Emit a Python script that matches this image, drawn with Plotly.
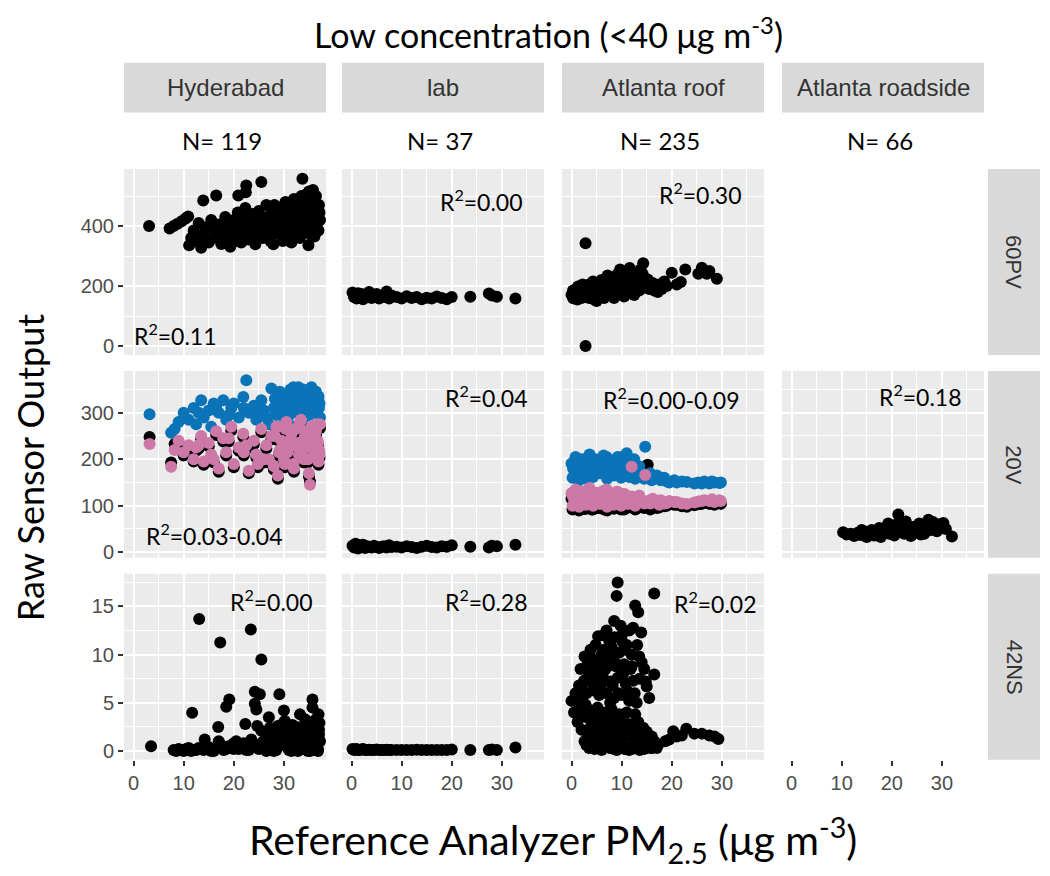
import plotly.graph_objects as go
from plotly.subplots import make_subplots

# page coordinates of the reference (the html body adds an 8 px margin)
OX, OY = 8, 8
W, H = 1050 - OX, 876 - OY

sites = ["Hyderabad", "lab", "Atlanta roof", "Atlanta roadside"]
sensors = ["60PV", "20V", "42NS"]
n_labels = ["N= 119", "N= 37", "N= 235", "N= 66"]

# ---------------- data ----------------
hyd_60pv = [(3.1,400),(7.2,392),(8.0,400),(8.8,408),(9.6,416),(10.4,425),(10.9,432),
    (13.9,485),(16.5,502),(20.9,502),(22.4,513),(22.5,535),(25.5,547),(33.7,558),
    (11.1,336),(11.5,360),(12.0,385),(12.5,350),(13.0,410),(13.5,328),(14.0,372),(14.3,395),
    (15.0,345),(15.5,420),(16.0,360),(16.2,388),(17.0,405),(17.5,340),(17.8,375),(18.3,430),
    (18.8,355),(19.3,331),(19.5,395),(20.0,420),(20.3,365),(20.8,445),(21.2,380),(21.5,345),
    (22.0,410),(22.3,460),(22.8,390),(23.0,355),(23.5,430),(24.0,372),(24.3,339),(24.6,405),
    (25.0,450),(25.3,385),(25.8,360),(26.2,420),(26.5,470),(27.0,395),(27.3,350),(27.9,339),
    (28.0,440),(28.3,410),(28.8,375),(29.0,460),(29.4,395),(29.8,350),(30.0,425),(30.3,480),
    (30.6,400),(30.9,370),(31.2,445),(31.5,345),(31.8,415),(32.0,490),(32.3,385),(32.6,455),
    (32.9,430),(33.2,360),(33.5,500),(33.8,405),(34.0,470),(34.3,380),(34.6,440),(34.9,336),
    (35.0,515),(35.2,420),(35.5,395),(35.7,480),(35.9,455),(36.1,365),(36.3,430),(36.5,410),
    (36.7,445),(36.9,385),(37.0,470),(37.2,420),(36.4,500),(35.8,520),(34.4,505),(33.0,480),
    (31.0,465),(29.5,440),(27.5,455),(26.0,395),(24.5,420),(23.2,375),(21.8,395),(19.0,380),
    (17.2,390),(20.5,400),(21.0,430),(21.7,360),(22.5,385),(23.3,415),(23.8,440),(24.8,365),
    (25.5,400),(26.8,430),(27.2,375),(28.5,390),(29.2,420),(30.2,360),(30.8,440),(31.4,395),
    (32.2,420),(32.8,370),(33.4,450),(34.1,395),(34.8,425),(35.4,370),(36.0,440),(36.6,395),
    (37.1,445),(36.2,470),(35.1,490),(34.7,455),(33.9,485),(32.4,470),(31.6,430),(30.4,410),
    (29.0,380),(28.1,470),(26.8,360),(25.6,430),(24.1,395),(22.6,425),(19.8,345),(18.0,410),
    (16.8,370),(15.2,395),(14.6,350),(12.8,370)]

hyd_20v_x = [3.2,7.5,8.2,9.0,10.0,11.0,12.0,12.5,13.5,14.0,15.0,15.5,16.5,17.0,17.9,18.5,19.5,20.0,
    21.0,21.9,22.5,23.0,24.0,24.5,25.5,26.0,26.5,27.5,28.0,28.5,29.0,29.5,30.0,30.5,31.0,31.5,
    31.9,32.3,32.7,33.0,33.4,33.8,34.2,34.5,34.8,35.2,35.5,35.8,36.1,36.4,36.7,37.0,37.2,36.9,
    35.0,33.6,32.0,30.2,28.8,27.0,
    28.2,29.2,30.4,31.3,32.1,32.9,33.7,34.4,35.1,35.6,36.2,36.8,37.1,36.5,35.3,34.0,33.2,31.7,
    30.7,29.7,13.0,16.0,19.0,22.0,24.8]
hyd_20v_blue = [297,257,265,280,300,285,310,275,327,290,305,270,315,300,327,285,310,320,290,334,
    370,300,315,285,327,305,290,352,310,295,320,300,330,310,295,340,355,320,345,305,335,350,320,
    300,340,315,355,330,305,345,325,310,290,335,295,285,270,280,300,275,
    330,345,320,350,335,355,340,325,350,338,345,330,320,300,310,290,315,300,285,305,300,320,295,
    310,300]
hyd_20v_pink = [233,184,220,240,215,230,200,225,250,195,235,210,260,180,245,215,270,190,225,255,
    230,175,240,210,265,200,230,250,185,270,215,240,200,280,225,255,190,265,235,210,285,220,250,
    241,200,145,270,230,210,260,240,220,275,195,170,205,180,190,165,200,
    250,220,265,240,230,270,215,260,245,225,255,235,210,275,260,200,280,230,215,270,230,200,245,
    215,190]
hyd_20v_black = [248,193,233,231,208,222,195,218,243,188,228,204,252,173,238,208,262,183,218,248,
    222,170,232,203,258,193,223,243,178,262,208,233,193,272,218,247,183,258,228,203,277,213,243,
    241,193,152,262,223,203,252,233,213,267,188,163,198,173,183,158,193,
    243,213,258,233,223,263,208,253,238,218,248,228,203,268,253,193,273,223,208,263,223,193,238,
    208,183]

hyd_42ns = [(3.5,0.5),(8.0,0.1),(9.0,0.2),(10.0,0.0),(11.0,0.3),(11.7,3.96),(12.0,0.1),(13.1,13.7),
    (13.5,0.2),(14.2,1.2),(15.0,0.4),(16.0,0.0),(16.9,2.5),(17.3,11.25),(17.5,0.6),(18.5,4.6),
    (19.1,5.35),(19.5,0.3),(20.5,1.0),(21.0,0.2),(22.0,0.8),(22.3,2.8),(23.0,0.1),(23.4,12.6),
    (24.2,6.15),(24.2,4.9),(24.5,4.3),(25.2,5.9),(25.5,9.5),(25.5,2.1),(26.0,0.5),(26.5,1.3),
    (27.0,0.2),(27.5,1.8),(28.0,0.9),(28.5,0.3),(29.1,5.9),(29.9,2.9),(29.5,1.5),(30.0,0.6),
    (30.5,2.2),(31.0,0.1),(31.5,1.4),(32.0,0.8),(32.5,2.5),(33.0,0.3),(33.2,3.8),(33.5,1.6),
    (34.0,0.7),(34.2,3.3),(34.5,2.0),(35.0,0.4),(35.5,1.1),(35.7,5.35),(35.7,4.5),(36.0,2.4),
    (36.5,0.9),(37.0,1.7),(37.1,2.9),(36.8,0.2),(31.5,0.0),(28.5,0.1),(26.5,0.0),(33.8,0.2),
    (30.8,1.0),(27.8,0.5),(35.2,0.0),(36.3,0.4),(20.0,0.2),(18.0,0.1),(15.5,0.0),(12.5,0.1),
    (8.5,0.0),(9.5,0.1),(10.5,0.2),(11.5,0.0),(13.0,0.3),(14.0,0.1),(15.0,0.2),(16.5,0.3),
    (17.0,1.0),(18.5,0.2),(19.0,0.5),(20.0,0.8),(21.5,0.3),(22.5,0.1),(23.5,1.2),(24.0,0.4),
    (25.0,0.2),(26.2,1.9),(26.8,0.8),(27.2,2.4),(27.7,0.3),(28.2,1.5),(28.8,2.6),(29.3,0.7),
    (29.7,1.9),(30.2,3.1),(30.7,0.5),(31.2,1.9),(31.7,2.7),(32.2,0.4),(32.7,1.2),(33.3,2.2),
    (33.7,0.9),(34.3,1.6),(34.7,2.8),(35.3,0.6),(35.8,1.5),(36.2,3.2),(36.6,0.6),(37.0,2.2),
    (37.2,1.0),(36.9,3.8),(30.0,4.2),(27.0,3.5),(28.0,0.0),(32.8,0.0),(34.8,0.0),(36.8,0.0),
    (25.7,0.9),(24.7,2.6)]

lab_x = [0.2,0.5,0.8,1.0,1.3,1.6,2.0,2.3,2.7,3.0,3.5,4.0,4.5,5.0,5.5,6.0,6.5,7.0,7.5,8.0,9.0,10.0,
    11.0,12.0,13.0,14.0,15.0,16.0,17.0,18.0,19.0,20.0,23.7,27.4,28.0,29.0,32.7]
lab_60pv = [178,163,170,158,176,166,173,156,168,163,180,160,168,173,158,166,163,182,158,168,163,158,
    166,160,163,156,161,158,165,160,156,163,164,175,168,164,158]
lab_20v = [14,10,18,12,8,15,11,16,9,13,12,10,14,11,9,12,13,10,15,11,12,10,13,11,9,12,14,11,10,13,
    12,15,12,10,14,13,16]
lab_42ns = [0.2,0.1,0.15,0.2,0.1,0.1,0.15,0.2,0.1,0.1,0.12,0.1,0.1,0.15,0.1,0.1,0.1,0.12,0.1,0.1,
    0.1,0.1,0.1,0.1,0.12,0.1,0.1,0.1,0.1,0.1,0.1,0.15,0.1,0.1,0.15,0.1,0.35]

roof_60pv = [(2.8,343),(2.8,0),(0.0,171),(0.3,160),(0.5,180),(0.8,165),(1.0,175),(1.2,155),(1.5,185),
    (1.8,170),(2.0,160),(2.3,190),(2.5,175),(2.8,165),(3.0,195),(3.3,180),(3.5,160),(3.8,200),
    (4.0,170),(4.2,185),(4.5,155),(4.8,205),(5.0,175),(5.3,190),(5.5,165),(5.8,210),(6.0,180),
    (6.3,195),(6.5,160),(6.8,215),(7.0,185),(7.3,200),(7.5,170),(7.8,225),(8.0,190),(8.3,205),
    (8.5,160),(8.8,230),(9.0,195),(9.3,210),(9.5,175),(9.8,235),(10.0,200),(10.3,220),(10.5,165),
    (10.8,240),(11.0,190),(11.3,215),(11.5,180),(11.8,245),(12.0,205),(12.3,225),(12.5,170),
    (12.8,235),(13.0,195),(13.3,215),(13.5,185),(14.0,210),(14.3,276),(14.5,195),(15.0,205),
    (15.5,190),(16.0,200),(16.5,185),(17.0,195),(17.5,205),(18.0,190),(19.0,200),(20.0,244),
    (21.0,205),(21.8,213),(22.7,255),(25.3,241),(26.0,261),(27.0,241),(27.5,250),(29.0,224),
    (1.0,190),(2.0,185),(0.5,158),(3.5,205),(6.0,220),(5.0,150),
    (0.3,185),(1.3,198),(2.2,205),(3.2,170),(4.3,215),(5.2,200),(6.2,172),(7.2,235),(8.2,178),
    (9.2,240),(10.2,185),(11.2,250),(12.2,188),(13.2,230),(14.2,240),(15.2,222),(16.2,210),
    (17.2,180),(18.5,215),(13.8,255),(11.6,260),(9.7,255)]

roof_20v_x = [0.0,0.3,0.6,1.0,1.3,1.6,2.0,2.3,2.6,3.0,3.3,3.6,4.0,4.4,4.8,5.2,5.6,6.0,6.5,7.0,7.5,
    8.0,8.5,9.0,9.5,10.0,10.5,11.0,11.5,12.0,12.5,13.0,13.5,14.0,14.7,15.2,15.7,16.2,17.0,17.8,
    18.5,19.5,20.5,22.0,24.5,25.3,26.5,27.5,28.5,29.5,
    0.2,0.8,1.5,2.2,2.9,3.6,4.3,5.0,5.7,6.4,7.1,7.8,8.5,9.2,9.9,10.6,11.3,12.0,12.7,13.4,
    1.0,2.5,4.0,5.5,7.0,8.5,10.0,11.5,13.0,14.5,16.0,17.5,19.0,21.0,23.0,26.0,28.0,29.8]
roof_20v_blue = [191,180,195,170,185,200,175,190,165,195,180,205,170,190,200,175,185,195,170,205,
    180,190,175,200,185,205,170,213,190,180,200,175,185,170,227,165,170,160,165,155,160,150,155,
    152,148,150,152,148,150,149,
    160,205,155,200,158,210,162,198,170,208,158,195,165,205,160,200,168,190,158,178,
    185,172,190,178,195,170,188,162,165,158,155,160,152,150,151,148,152,150]
roof_20v_pink = [127,120,110,130,115,105,125,118,108,132,112,122,105,128,115,110,125,118,105,135,
    112,120,108,130,115,125,105,120,110,184,115,108,122,112,166,110,105,115,108,112,105,110,108,
    105,107,109,112,110,108,112,
    100,135,98,130,102,138,100,128,104,132,98,126,102,130,100,125,104,120,100,118,
    115,110,120,108,118,112,115,110,108,105,110,102,106,108,104,110,114,110]
roof_20v_black = [115,110,95,118,105,92,112,108,93,120,100,110,92,115,103,95,112,106,92,122,98,108,
    94,118,102,112,92,108,97,100,102,94,110,98,100,188,92,102,95,106,99,104,102,99,101,103,106,104,
    102,106,
    92,120,90,118,94,125,92,115,95,120,90,112,94,118,92,112,96,108,92,106,
    105,100,110,98,108,102,105,100,98,95,104,96,100,102,98,104,108,104]

roof_42ns = [(9.2,17.5),(9.0,16.1),(16.5,16.35),(12.7,15.1),(13.3,14.4),(8.5,13.5),(12.3,12.8),
    (13.9,12.3),(5.3,11.9),(7.0,12.5),(10.0,12.0),(11.0,11.0),(6.5,10.5),(8.0,10.8),(9.5,10.2),
    (12.0,10.0),(13.5,9.8),(4.5,9.5),(5.8,9.0),(7.2,9.3),(8.8,8.8),(10.5,9.0),(11.8,8.5),(14.5,8.5),
    (16.5,7.95),(3.5,8.0),(4.8,7.5),(6.2,7.8),(7.8,7.2),(9.2,7.6),(10.8,7.0),(12.3,7.3),(15.0,6.7),
    (2.0,6.5),(3.0,6.0),(4.2,6.3),(5.5,5.8),(7.0,6.0),(8.5,5.5),(10.0,5.8),(11.5,5.2),(13.0,5.0),
    (0.0,5.2),(1.0,5.5),(1.5,4.5),(2.8,4.8),(4.0,4.2),(5.2,4.5),(6.8,4.0),(8.0,4.3),(9.5,3.8),
    (11.0,4.0),(12.7,3.8),(3.0,3.5),(4.5,3.0),(6.0,3.3),(7.5,2.8),(9.0,3.0),(10.5,2.5),(12.0,2.7),
    (13.5,2.3),(15.0,2.0),(16.0,1.5),(5.0,2.0),(6.5,1.5),(8.0,1.8),(9.5,1.2),(11.0,1.6),(12.5,1.0),
    (14.0,1.3),(15.5,0.8),(4.0,0.8),(5.5,0.3),(7.0,0.6),(8.5,0.2),(10.0,0.5),(11.5,0.1),(13.0,0.4),
    (14.5,0.2),(16.0,0.3),(17.3,0.66),(18.7,1.0),(2.6,1.0),(3.5,0.3),(20.3,2.05),(21.0,1.5),
    (22.9,2.3),(22.0,1.6),(24.5,1.8),(26.0,1.8),(27.5,1.6),(29.3,1.25),(28.5,1.5),(19.5,1.2),
    (6.0,7.0),(8.2,9.8),(10.2,11.3),(7.5,11.5),
    (1.5,6.8),(2.2,5.6),(2.5,7.3),(3.2,9.0),(3.8,10.5),(4.2,7.0),(4.8,11.0),(5.0,8.5),(5.6,6.5),
    (6.0,10.0),(6.3,12.0),(6.8,8.5),(7.4,10.0),(7.7,5.0),(8.2,6.8),(8.6,11.8),(9.0,9.0),(9.4,6.0),
    (9.8,13.0),(10.3,8.0),(10.7,10.5),(11.2,6.2),(11.5,12.5),(12.0,8.8),(12.6,6.0),(13.1,11.0),
    (13.6,7.5),(14.0,9.2),(14.8,7.2),(15.5,5.5),(1.2,3.0),(2.0,2.2),(2.5,3.8),(3.3,1.8),(3.8,2.5),
    (4.5,1.5),(5.0,3.8),(5.6,2.5),(6.2,1.0),(6.8,2.2),(7.3,3.6),(7.8,1.2),(8.3,2.6),(8.8,0.8),
    (9.3,2.0),(9.8,3.2),(10.3,1.4),(10.8,0.4),(11.3,2.8),(11.8,1.8),(12.3,0.6),(12.8,2.0),(13.3,3.0),
    (13.8,0.9),(14.3,2.4),(14.8,1.0),(15.3,1.6),(15.8,0.3),(16.5,1.0),(17.0,0.3),(4.6,0.2),(6.0,0.1),
    (7.6,0.3),(9.0,0.1),(10.6,0.2),(12.0,0.2),(13.6,0.1),(3.0,0.6),(0.5,4.0),(0.8,6.0),(1.8,8.5),
    (2.6,9.8)]

road_20v = [(10.3,43),(11.0,38),(11.8,40),(12.5,35),(13.2,42),(13.8,37),(14.5,45),(15.0,33),(15.5,40),
    (16.0,48),(16.5,36),(17.0,43),(17.5,52),(18.0,38),(18.5,46),(19.0,55),(19.5,40),(20.0,50),
    (20.5,36),(21.0,60),(21.3,81),(21.5,45),(22.0,53),(22.5,40),(23.0,58),(23.5,47),(24.0,37),
    (24.5,55),(25.0,44),(25.5,62),(26.0,50),(26.5,40),(27.0,58),(27.3,70),(27.8,48),(28.2,65),
    (28.6,55),(29.0,45),(29.5,60),(30.0,52),(30.3,63),(30.8,50),(32.0,34),(14.0,48),(17.8,33),
    (20.8,42),(23.8,35),(19.3,62),(22.8,66),(25.8,38)]

r2_labels = {  # (row, col): (text, x, y, anchor)
    (1, 1): ("R<sup>2</sup>=0.11", -0.3, 38, "left"),
    (1, 2): ("R<sup>2</sup>=0.00", 17.3, 484, "left"),
    (1, 3): ("R<sup>2</sup>=0.30", 17.0, 507, "left"),
    (2, 1): ("R<sup>2</sup>=0.03-0.04", 16.2, 38, "center"),
    (2, 2): ("R<sup>2</sup>=0.04", 18.3, 334, "left"),
    (2, 3): ("R<sup>2</sup>=0.00-0.09", 5.8, 330, "left"),
    (2, 4): ("R<sup>2</sup>=0.18", 17.0, 338, "left"),
    (3, 1): ("R<sup>2</sup>=0.00", 18.8, 15.6, "left"),
    (3, 2): ("R<sup>2</sup>=0.28", 18.3, 15.6, "left"),
    (3, 3): ("R<sup>2</sup>=0.02", 20.0, 15.4, "left"),
}

# ---------------- styling / layout constants ----------------
BLACK, BLUE, PINK = "#000000", "#0B73B7", "#CC79A7"
PANEL_BG, STRIP_BG = "#EBEBEB", "#D9D9D9"
GG_FONT = "Liberation Sans"
CAL_FONT = "Lato"

col_px = [(124, 326), (342, 544), (562, 764), (782, 984)]
row_px = [(170, 357), (373, 561), (577, 764)]
x_range = [-1.9, 38.4]
y_ranges = [[-30, 590], [-12, 390], [-0.9, 18.4]]
y_dticks = [200, 100, 5]
present = {(1, 1), (1, 2), (1, 3), (2, 1), (2, 2), (2, 3), (2, 4), (3, 1), (3, 2), (3, 3)}


def px(x):
    return (x - OX) / W


def py(y):
    return 1 - (y - OY) / H


fig = make_subplots(rows=3, cols=4)


def add(xs, ys, r, c, color):
    fig.add_trace(go.Scatter(x=xs, y=ys, mode="markers",
                             marker=dict(color=color, size=12, line=dict(width=0)),
                             showlegend=False, hoverinfo="skip"), row=r, col=c)


def unzip(pairs):
    return [p[0] for p in pairs], [p[1] for p in pairs]


add(*unzip(hyd_60pv), 1, 1, BLACK)
add(lab_x, lab_60pv, 1, 2, BLACK)
add(*unzip(roof_60pv), 1, 3, BLACK)
add(hyd_20v_x, hyd_20v_black, 2, 1, BLACK)
add(hyd_20v_x, hyd_20v_blue, 2, 1, BLUE)
add(hyd_20v_x, hyd_20v_pink, 2, 1, PINK)
add(lab_x, lab_20v, 2, 2, BLACK)
add(roof_20v_x, roof_20v_black, 2, 3, BLACK)
add(roof_20v_x, roof_20v_blue, 2, 3, BLUE)
add(roof_20v_x, roof_20v_pink, 2, 3, PINK)
add(*unzip(road_20v), 2, 4, BLACK)
add(*unzip(hyd_42ns), 3, 1, BLACK)
add(lab_x, lab_42ns, 3, 2, BLACK)
add(*unzip(roof_42ns), 3, 3, BLACK)
add([], [], 1, 4, BLACK)
add([], [], 3, 4, BLACK)

tickfont = dict(family=GG_FONT, size=20, color="#4D4D4D")
shapes = []
annotations = []

for r in range(1, 4):
    for c in range(1, 5):
        idx = (r - 1) * 4 + c
        xa = "xaxis" if idx == 1 else f"xaxis{idx}"
        ya = "yaxis" if idx == 1 else f"yaxis{idx}"
        has = (r, c) in present
        x0, x1 = col_px[c - 1]
        y0, y1 = row_px[r - 1]
        grid = dict(gridcolor="white", gridwidth=2, showgrid=has)
        fig.layout[xa].update(
            domain=[px(x0), px(x1)], range=x_range, tick0=0, dtick=10,
            zeroline=False, showline=False, **grid,
            minor=dict(dtick=5, tick0=0, showgrid=has, gridcolor="white", gridwidth=1, ticks=""),
            ticks="outside" if r == 3 else "", ticklen=5, tickwidth=1.5, tickcolor="#333333",
            showticklabels=(r == 3), tickfont=tickfont, fixedrange=True)
        fig.layout[ya].update(
            domain=[py(y1), py(y0)], range=y_ranges[r - 1], tick0=0, dtick=y_dticks[r - 1],
            zeroline=False, showline=False, **grid,
            minor=dict(dtick=y_dticks[r - 1] / 2, tick0=0, showgrid=has, gridcolor="white",
                       gridwidth=1, ticks=""),
            ticks="outside" if c == 1 else "", ticklen=5, tickwidth=1.5, tickcolor="#333333",
            showticklabels=(c == 1), tickfont=tickfont, fixedrange=True)
        if not has:
            shapes.append(dict(type="rect", xref="paper", yref="paper", layer="above",
                               x0=px(x0 - 1), x1=px(x1 + 1), y0=py(y1 + 1), y1=py(y0 - 1),
                               fillcolor="white", line=dict(width=0)))
        if (r, c) in r2_labels:
            t, xv, yv, anc = r2_labels[(r, c)]
            annotations.append(dict(text=t, x=xv, y=yv, xref=f"x{idx}", yref=f"y{idx}",
                                    xanchor=anc, yanchor="middle", showarrow=False,
                                    font=dict(family=CAL_FONT, size=23, color="black")))

# top strips and N labels
for c, (name, nl) in enumerate(zip(sites, n_labels)):
    x0, x1 = col_px[c]
    shapes.append(dict(type="rect", xref="paper", yref="paper", x0=px(x0), x1=px(x1),
                       y0=py(113), y1=py(63), fillcolor=STRIP_BG, line=dict(width=0)))
    annotations.append(dict(text=name, x=px((x0 + x1) / 2), y=py(88), xref="paper", yref="paper",
                            showarrow=False, xanchor="center", yanchor="middle",
                            font=dict(family=GG_FONT, size=24, color="#333333")))
    annotations.append(dict(text=nl, x=px((x0 + x1) / 2 - 3), y=py(141), xref="paper", yref="paper",
                            showarrow=False, xanchor="center", yanchor="middle",
                            font=dict(family=CAL_FONT, size=24, color="black")))

# right strips
for r, s in enumerate(sensors):
    y0, y1 = row_px[r]
    shapes.append(dict(type="rect", xref="paper", yref="paper", x0=px(988), x1=px(1040),
                       y0=py(y1), y1=py(y0), fillcolor=STRIP_BG, line=dict(width=0)))
    annotations.append(dict(text=s, x=px(1014), y=py((y0 + y1) / 2), xref="paper", yref="paper",
                            showarrow=False, textangle=90, xanchor="center", yanchor="middle",
                            font=dict(family=GG_FONT, size=22, color="#333333")))

# titles
annotations.append(dict(text="Low concentration (&lt;40 μg m<sup>-3</sup>)", x=px(548), y=py(33),
                        xref="paper", yref="paper", showarrow=False, xanchor="center", yanchor="middle",
                        font=dict(family=CAL_FONT, size=34, color="black")))
annotations.append(dict(text="Raw Sensor Output", x=px(30), y=py(470), xref="paper", yref="paper",
                        showarrow=False, textangle=-90, xanchor="center", yanchor="middle",
                        font=dict(family=CAL_FONT, size=36, color="black")))
annotations.append(dict(text="Reference Analyzer PM<sub>2.5</sub> (μg m<sup>-3</sup>)", x=px(553),
                        y=py(845), xref="paper", yref="paper", showarrow=False,
                        xanchor="center", yanchor="middle",
                        font=dict(family=CAL_FONT, size=41, color="black")))

fig.update_layout(width=W, height=H, margin=dict(l=0, r=0, t=0, b=0),
                  paper_bgcolor="white", plot_bgcolor=PANEL_BG,
                  shapes=shapes, annotations=annotations, showlegend=False)

fig.write_html("out.html")
